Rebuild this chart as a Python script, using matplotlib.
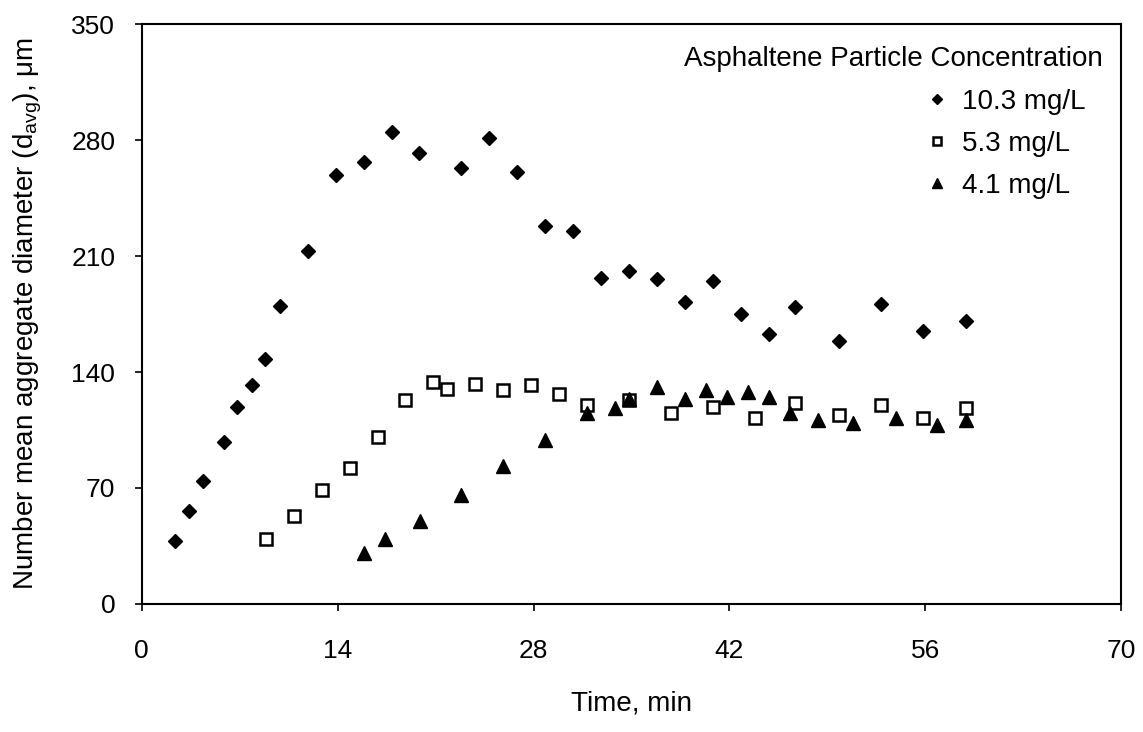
import matplotlib
matplotlib.use("Agg")
import matplotlib.pyplot as plt

plt.rcParams['font.family'] = ['Liberation Sans', 'DejaVu Sans']

# Series: 10.3 mg/L (filled diamonds)
t_103 = [2.4, 3.4, 4.4, 5.9, 6.8, 7.9, 8.8, 9.9, 11.9, 13.9, 15.9, 17.9, 19.8,
         22.8, 24.8, 26.8, 28.8, 30.8, 32.8, 34.8, 36.8, 38.8, 40.8, 42.8,
         44.8, 46.7, 49.8, 52.8, 55.8, 58.9]
d_103 = [38, 56, 74, 98, 119, 132, 148, 180, 213, 259, 267, 285, 272,
         263, 281, 261, 228, 225, 197, 201, 196, 182, 195, 175,
         163, 179, 159, 181, 165, 171]

# Series: 5.3 mg/L (open squares)
t_53 = [8.9, 10.85, 12.9, 14.85, 16.85, 18.8, 20.8, 21.85, 23.8, 25.8, 27.8,
        29.8, 31.8, 34.85, 37.8, 40.8, 43.8, 46.7, 49.8, 52.8, 55.8, 58.9]
d_53 = [39, 53, 69, 82, 101, 123, 134, 130, 133, 129, 132,
        127, 120, 123, 115, 119, 112, 121, 114, 120, 112, 118]

# Series: 4.1 mg/L (filled triangles)
t_41 = [15.9, 17.4, 19.9, 22.85, 25.85, 28.85, 31.8, 33.8, 34.85, 36.8, 38.8,
        40.3, 41.85, 43.3, 44.8, 46.3, 48.3, 50.8, 53.9, 56.85, 58.9]
d_41 = [31, 39, 50, 66, 83, 99, 115, 118, 124, 131, 124,
        129, 125, 128, 125, 115, 111, 109, 112, 108, 111]

labels = ['10.3 mg/L', '5.3 mg/L', '4.1 mg/L']
legend_title = 'Asphaltene Particle Concentration'
x_ticks = [0, 14, 28, 42, 56, 70]
y_ticks = [0, 70, 140, 210, 280, 350]

fig = plt.figure(figsize=(11.43, 7.32), dpi=100)
ax = fig.add_axes([0.124, 0.175, 0.857, 0.792])

ax.plot(t_103, d_103, linestyle='none', marker='D', ms=6.8, color='black',
        label=labels[0])
ax.plot(t_53, d_53, linestyle='none', marker='s', ms=8, mfc='white',
        mec='black', mew=1.8, label=labels[1])
ax.plot(t_41, d_41, linestyle='none', marker='^', ms=9.5, color='black',
        label=labels[2])

ax.set_xlim(0, 70)
ax.set_ylim(0, 350)
ax.set_xticks(x_ticks)
ax.set_yticks(y_ticks)
ax.tick_params(direction='out', length=5, width=1.2, labelsize=19)
ax.tick_params(axis='x', pad=20)
ax.tick_params(axis='y', pad=14)
for s in ax.spines.values():
    s.set_linewidth(1.5)

ax.set_xlabel('Time, min', fontsize=20, labelpad=20)
ax.set_ylabel(r'Number mean aggregate diameter (d$_{\mathregular{avg}}$), μm',
              fontsize=20, labelpad=20)

ax.text(0.981, 0.94, legend_title, transform=ax.transAxes, ha='right',
        va='center', fontsize=20)
leg = ax.legend(loc='upper right', bbox_to_anchor=(0.963, 0.889),
                frameon=False, fontsize=20, markerscale=0.7,
                handlelength=0.6, handletextpad=0.6, labelspacing=0.58,
                borderaxespad=0, borderpad=0)

fig.savefig('out.png', dpi=100)
